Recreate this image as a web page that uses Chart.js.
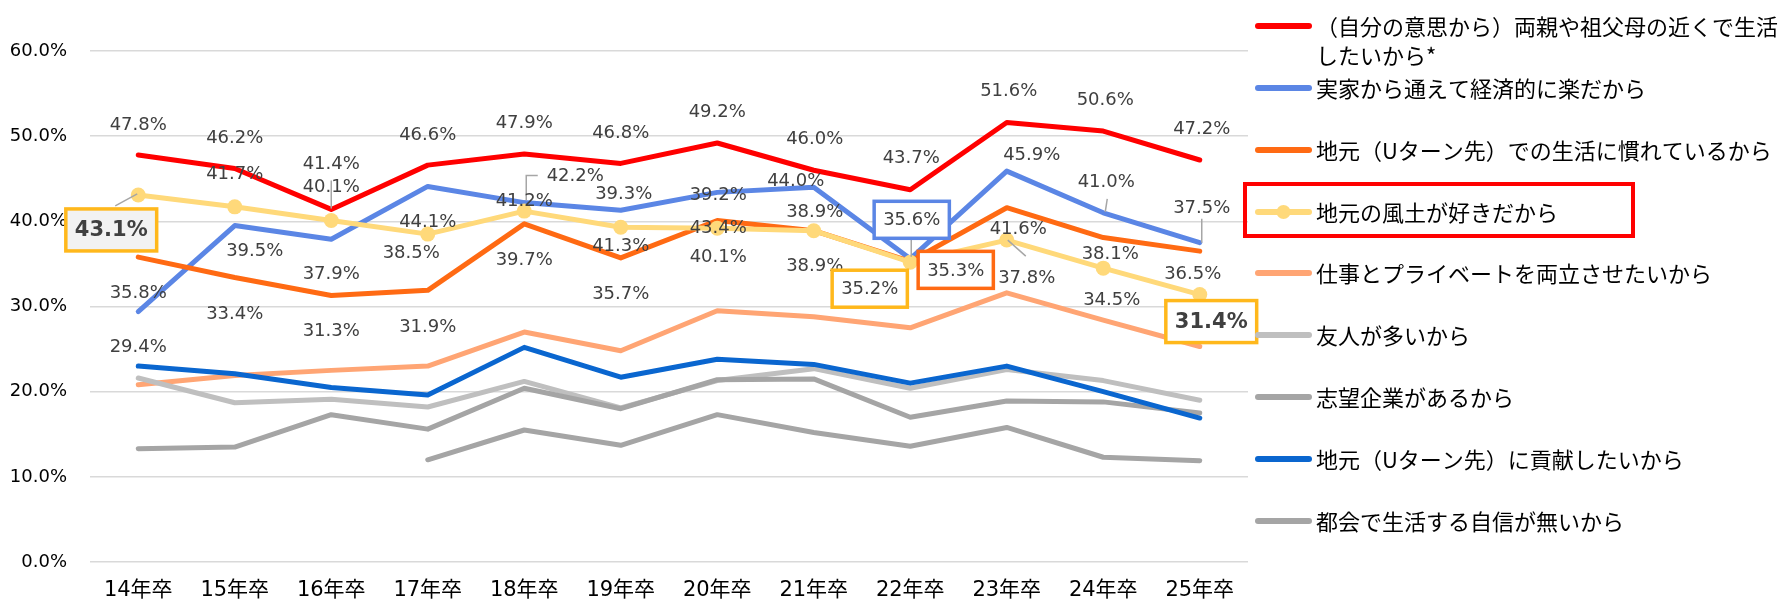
<!DOCTYPE html>
<html lang="ja">
<head>
<meta charset="utf-8">
<title>地元に就職したい理由</title>
<script src="https://cdn.jsdelivr.net/npm/chart.js@4.4.1/dist/chart.umd.min.js"></script>
<style>
  html, body { margin: 0; padding: 0; background: #fff; }
  #wrap { width: 1778px; height: 603px; }
</style>
</head>
<body>
<div id="wrap"><canvas id="myChart" width="1778" height="603"></canvas></div>
<script>
// 卒業年（横軸）
var categories = ['14年卒', '15年卒', '16年卒', '17年卒', '18年卒', '19年卒',
                  '20年卒', '21年卒', '22年卒', '23年卒', '24年卒', '25年卒'];

// 系列名（凡例の順）
var seriesNames = [
  ['（自分の意思から）両親や祖父母の近くで生活', 'したいから*'],
  '実家から通えて経済的に楽だから',
  '地元（Uターン先）での生活に慣れているから',
  '地元の風土が好きだから',
  '仕事とプライベートを両立させたいから',
  '友人が多いから',
  '志望企業があるから',
  '地元（Uターン先）に貢献したいから',
  '都会で生活する自信が無いから'
];

// 値（%）
var parents    = [47.8, 46.2, 41.4, 46.6, 47.9, 46.8, 49.2, 46.0, 43.7, 51.6, 50.6, 47.2];
var commute    = [29.4, 39.5, 37.9, 44.1, 42.2, 41.3, 43.4, 44.0, 35.6, 45.9, 41.0, 37.5];
var usedTo     = [35.8, 33.4, 31.3, 31.9, 39.7, 35.7, 40.1, 38.9, 35.3, 41.6, 38.1, 36.5];
var climate    = [43.1, 41.7, 40.1, 38.5, 41.2, 39.3, 39.2, 38.9, 35.2, 37.8, 34.5, 31.4];
var workLife   = [20.8, 21.9, 22.5, 23.0, 27.0, 24.8, 29.5, 28.8, 27.5, 31.6, 28.4, 25.3];
var friends    = [21.6, 18.7, 19.1, 18.2, 21.2, 18.1, 21.3, 22.7, 20.4, 22.6, 21.3, 19.0];
var company    = [13.3, 13.5, 17.3, 15.6, 20.4, 18.0, 21.4, 21.5, 17.0, 18.9, 18.8, 17.5];
var contribute = [23.0, 22.1, 20.5, 19.6, 25.2, 21.7, 23.8, 23.2, 21.0, 23.0, 20.0, 16.9];
var cityLife   = [null, null, null, 12.0, 15.5, 13.7, 17.3, 15.2, 13.6, 15.8, 12.3, 11.9];

var seriesData = [parents, commute, usedTo, climate, workLife, friends, company, contribute, cityLife];
var seriesColors = ['#FF0000', '#5B86E5', '#FF6A13', '#FFD97A', '#FFA574',
                    '#BFBFBF', '#A5A5A5', '#0A66CF', '#A5A5A5'];

// ラベル位置（点からのずらし量 px）。ラベルを付けるのは先頭4系列だけ
var labelOffsets = [
  [[0,-31],[0,-31],[0,-46],[0,-31],[0,-32],[0,-31],[0,-32],[1,-32],[1,-32],[2,-32],[2,-32],[2,-32]],
  [[0,35],[20,25],[0,34],[0,35],[51,-27],[0,35],[1,35],[-18,-7],[1.5,-39],[25,-17],[3,-31],[2,-35]],
  [[0,35],[0,36],[0,35],[0,36],[0,35],[0,35],[1,36],[1,35],[45.5,8.5],[11.5,21],[7,15.5],[-7,22]],
  [[-27,35],[0,-34],[0,-34],[-16.5,18.5],[0,-11],[3,-34],[1,-34],[1,-19],[-40.5,26.5],[20,37.5],[8.5,31.5],[11.5,27]]
];

// 枠付きラベル
var boxes = [
  { s: 3, i: 0,  border: '#FFB81C', fill: '#F2F2F2', bold: true },
  { s: 1, i: 8,  border: '#5B86E5', fill: '#FFFFFF', bold: false },
  { s: 2, i: 8,  border: '#FF6A13', fill: '#FFFFFF', bold: false },
  { s: 3, i: 8,  border: '#FFB81C', fill: '#FFFFFF', bold: false },
  { s: 3, i: 11, border: '#FFB81C', fill: '#FFFFFF', bold: true }
];

// 引き出し線（点からの相対座標）
var leaders = [
  { s: 0, i: 2,  path: [[0,-29],[0,-1]] },
  { s: 1, i: 4,  path: [[13.5,-27],[2,-27],[2,-2]] },
  { s: 1, i: 8,  path: [[1,-20],[1,-2]] },
  { s: 1, i: 10, path: [[4,-14],[2,-1]] },
  { s: 1, i: 11, path: [[2,-24],[2,0]] },
  { s: 3, i: 0,  path: [[-23,11],[-1,-1]] },
  { s: 3, i: 9,  path: [[1,0],[19,16]] }
];

var latin = '"DejaVu Sans", "Noto Sans CJK JP", sans-serif';
var cjk = '"Noto Sans CJK JP", "DejaVu Sans", sans-serif';

var dataLabels = {
  id: 'dataLabels',
  afterDatasetsDraw: function (chart) {
    var ctx = chart.ctx;
    ctx.save();

    // 引き出し線
    ctx.strokeStyle = '#A6A6A6';
    ctx.lineWidth = 1.5;
    leaders.forEach(function (l) {
      var pt = chart.getDatasetMeta(l.s).data[l.i];
      ctx.beginPath();
      l.path.forEach(function (p, k) {
        if (k === 0) ctx.moveTo(pt.x + p[0], pt.y + p[1]);
        else ctx.lineTo(pt.x + p[0], pt.y + p[1]);
      });
      ctx.stroke();
    });

    ctx.textAlign = 'center';
    ctx.textBaseline = 'middle';
    for (var s = 0; s < labelOffsets.length; s++) {
      var meta = chart.getDatasetMeta(s);
      meta.data.forEach(function (pt, i) {
        var v = seriesData[s][i];
        if (v === null) return;
        var off = labelOffsets[s][i];
        var x = pt.x + off[0], y = pt.y + off[1];
        var txt = v.toFixed(1) + '%';
        var box = boxes.filter(function (b) { return b.s === s && b.i === i; })[0];
        if (box) {
          ctx.font = (box.bold ? 'bold 21px ' : '18px ') + latin;
          var w = ctx.measureText(txt).width + 18;
          var h = box.bold ? 42 : 37;
          ctx.fillStyle = box.fill;
          ctx.fillRect(x - w / 2, y - h / 2, w, h);
          ctx.lineWidth = 3.5;
          ctx.strokeStyle = box.border;
          ctx.strokeRect(x - w / 2, y - h / 2, w, h);
        } else {
          ctx.font = '18px ' + latin;
        }
        ctx.fillStyle = '#404040';
        ctx.fillText(txt, x, y + 1);
      });
    }
    ctx.restore();
  }
};

// 凡例（右側に手書き）
var legendRows = [26, 88, 150, 212, 273, 335, 397, 459, 521];
var customLegend = {
  id: 'customLegend',
  afterDraw: function (chart) {
    var ctx = chart.ctx;
    ctx.save();
    ctx.textAlign = 'left';
    ctx.textBaseline = 'middle';
    ctx.font = '22px ' + cjk;
    seriesNames.forEach(function (name, k) {
      var y = legendRows[k];
      ctx.strokeStyle = seriesColors[k];
      ctx.lineWidth = 6;
      ctx.lineCap = 'round';
      ctx.beginPath();
      ctx.moveTo(1258, y);
      ctx.lineTo(1309, y);
      ctx.stroke();
      if (k === 3) {
        ctx.fillStyle = seriesColors[k];
        ctx.beginPath();
        ctx.arc(1283.5, y, 7, 0, Math.PI * 2);
        ctx.fill();
      }
      ctx.fillStyle = '#000';
      var lines = Array.isArray(name) ? name : [name];
      lines.forEach(function (t, j) {
        ctx.fillText(t, 1316, y + 1 + j * 29);
      });
    });
    // 強調枠
    ctx.strokeStyle = '#FF0000';
    ctx.lineWidth = 4;
    ctx.strokeRect(1245, 184, 388, 52);
    ctx.restore();
  }
};

var datasets = seriesData.map(function (d, k) {
  return {
    label: Array.isArray(seriesNames[k]) ? seriesNames[k].join('') : seriesNames[k],
    data: d,
    borderColor: seriesColors[k],
    backgroundColor: seriesColors[k],
    borderWidth: 5,
    borderCapStyle: 'round',
    borderJoinStyle: 'round',
    pointRadius: k === 3 ? 7.5 : 0,
    pointHoverRadius: k === 3 ? 7.5 : 0,
    pointBorderWidth: 0,
    tension: 0,
    order: seriesData.length - k
  };
});

var ctx = document.getElementById('myChart').getContext('2d');
var myChart = new Chart(ctx, {
  type: 'line',
  data: { labels: categories, datasets: datasets },
  options: {
    responsive: false,
    animation: false,
    layout: { padding: { top: 51, right: 530, left: 0, bottom: 0 } },
    plugins: {
      legend: { display: false },
      tooltip: { enabled: false }
    },
    scales: {
      x: {
        offset: true,
        grid: { display: false, drawTicks: false },
        border: { display: false },
        ticks: {
          autoSkip: false,
          maxRotation: 0,
          padding: 16,
          color: '#000',
          font: { family: latin, size: 21 }
        },
        afterFit: function (scale) { scale.height = 41; }
      },
      y: {
        min: 0,
        max: 60,
        grid: { color: '#D9D9D9', lineWidth: 1.5, drawTicks: false },
        border: { display: false },
        ticks: {
          stepSize: 10,
          padding: 23,
          color: '#000',
          font: { family: latin, size: 18 },
          callback: function (v) { return v.toFixed(1) + '%'; }
        },
        afterFit: function (scale) { scale.width = 90; }
      }
    }
  },
  plugins: [dataLabels, customLegend]
});
</script>
</body>
</html>
